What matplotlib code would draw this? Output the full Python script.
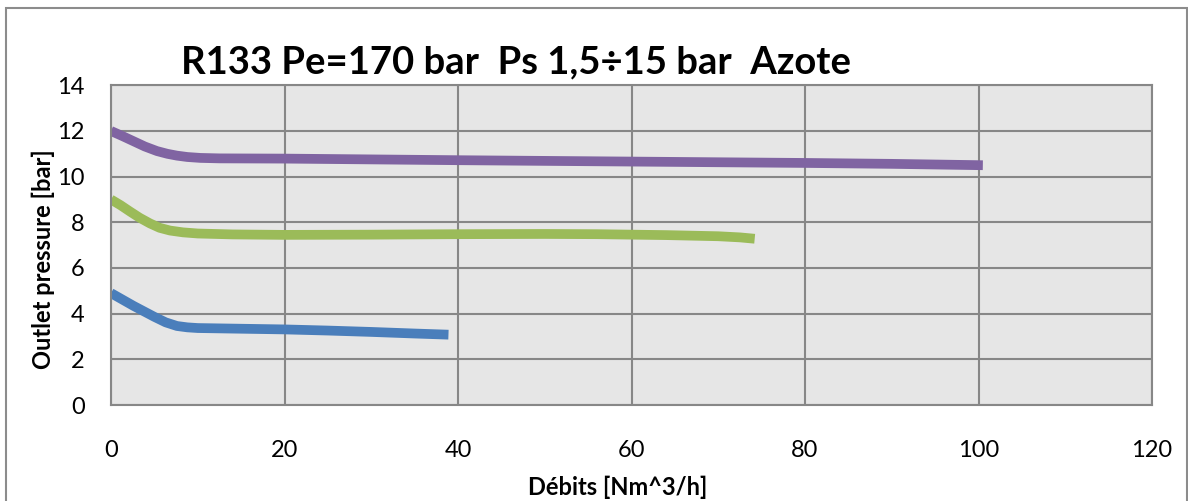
import matplotlib
matplotlib.use("Agg")
import matplotlib.pyplot as plt
from matplotlib.patches import Rectangle

# Valeurs (débit Nm^3/h, pression de sortie bar)
debit_bleu = [0, 1.3, 2.6, 3.8, 5, 6.3, 7.6, 8.8, 10, 15, 20, 25, 30, 35, 38.9]
pression_bleu = [4.9, 4.62, 4.34, 4.1, 3.86, 3.62, 3.46, 3.4, 3.37, 3.34, 3.31, 3.26, 3.2, 3.13, 3.08]

debit_vert = [0, 1.1, 2.2, 3.3, 4.5, 5.6, 6.8, 8.3, 10, 14, 20, 30, 40, 50, 56, 64, 70, 72.5, 74.2]
pression_vert = [9.0, 8.75, 8.47, 8.2, 7.95, 7.76, 7.64, 7.56, 7.51, 7.47, 7.45, 7.46, 7.48, 7.49, 7.48, 7.44, 7.39, 7.34, 7.28]

debit_violet = [0, 1.3, 2.6, 3.9, 5.3, 6.5, 7.6, 8.8, 10.3, 12.5, 20, 40, 60, 80, 90, 100.5]
pression_violet = [12.0, 11.78, 11.55, 11.32, 11.12, 11.0, 10.92, 10.86, 10.82, 10.8, 10.79, 10.72, 10.66, 10.6, 10.56, 10.5]

xticks = [0, 20, 40, 60, 80, 100, 120]
yticks = [0, 2, 4, 6, 8, 10, 12, 14]

plt.rcParams['font.family'] = ['Lato', 'DejaVu Sans']

fig = plt.figure(figsize=(11.88, 5.01), dpi=100)
ax = fig.add_axes([111/1188, 1 - 405/501, (1152 - 111)/1188, (405 - 85.3)/501])
ax.set_facecolor('#e6e6e6')

lw = 7
ax.plot(debit_bleu, pression_bleu, color='#4a7ebb', lw=lw, solid_capstyle='butt', solid_joinstyle='round')
ax.plot(debit_vert, pression_vert, color='#9bbb59', lw=lw, solid_capstyle='butt', solid_joinstyle='round')
ax.plot(debit_violet, pression_violet, color='#8064a2', lw=lw, solid_capstyle='butt', solid_joinstyle='round')

ax.set_xlim(0, 120)
ax.set_ylim(0, 14)
ax.set_xticks(xticks)
ax.set_yticks(yticks)
ax.grid(True, color='#878787', lw=1.5)
ax.set_axisbelow(True)
for s in ax.spines.values():
    s.set_color('#878787')
    s.set_linewidth(1.5)
ax.tick_params(axis='both', length=0, labelsize=17, labelcolor='black')
ax.tick_params(axis='x', pad=25)
ax.tick_params(axis='y', pad=19)

fig.text(516/1188, 1 - 62/501, 'R133 Pe=170 bar  Ps 1,5÷15 bar  Azote',
         ha='center', va='center', fontsize=27.5, fontweight='bold')
fig.text(618/1188, 1 - 487/501, 'Débits [Nm^3/h]', ha='center', va='center',
         fontsize=17, fontweight='bold')
fig.text(43/1188, 1 - 259/501, 'Outlet pressure [bar]', ha='center', va='center',
         rotation=90, fontsize=17, fontweight='bold')

# cadre gris autour du graphique
fig.patches.append(Rectangle((6/1188, -0.05), (1187 - 6)/1188, 1.05 - 8/501,
                             transform=fig.transFigure, fill=False,
                             edgecolor='#8c8c8c', lw=1.5, clip_on=False))

fig.savefig('out.png', dpi=100)
